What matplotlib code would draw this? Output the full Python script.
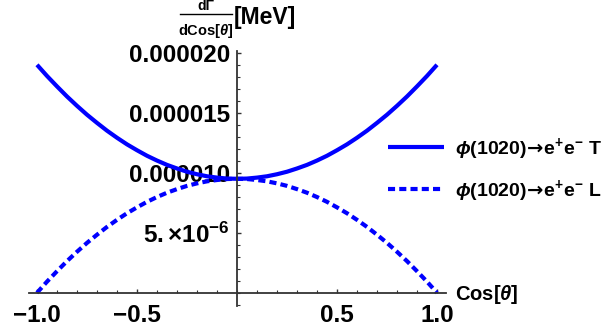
import numpy as np
import matplotlib
matplotlib.use("Agg")
import matplotlib.pyplot as plt
from matplotlib.lines import Line2D
from matplotlib.ticker import MultipleLocator, FixedLocator, FixedFormatter

plt.rcParams['font.family'] = ['Liberation Sans', 'DejaVu Sans']
plt.rcParams['font.weight'] = 'bold'
plt.rcParams['mathtext.fontset'] = 'custom'
plt.rcParams['mathtext.rm'] = 'Liberation Sans:bold'
plt.rcParams['mathtext.bf'] = 'Liberation Sans:bold'
plt.rcParams['mathtext.it'] = 'Liberation Sans:bold:italic'
plt.rcParams['mathtext.sf'] = 'DejaVu Sans:bold'

# Data, values in units of 1e-6 MeV
cos_theta = [-1.00, -0.95, -0.90, -0.85, -0.80, -0.75, -0.70, -0.65, -0.60, -0.55,
             -0.50, -0.45, -0.40, -0.35, -0.30, -0.25, -0.20, -0.15, -0.10, -0.05,
             0.00, 0.05, 0.10, 0.15, 0.20, 0.25, 0.30, 0.35, 0.40, 0.45,
             0.50, 0.55, 0.60, 0.65, 0.70, 0.75, 0.80, 0.85, 0.90, 0.95, 1.00]
rate_T = [19.00, 18.07, 17.20, 16.36, 15.58, 14.84, 14.16, 13.51, 12.92, 12.37,
          11.88, 11.42, 11.02, 10.66, 10.36, 10.09, 9.88, 9.71, 9.60, 9.52,
          9.50, 9.52, 9.60, 9.71, 9.88, 10.09, 10.36, 10.66, 11.02, 11.42,
          11.88, 12.37, 12.92, 13.51, 14.16, 14.84, 15.58, 16.36, 17.20, 18.07, 19.00]
rate_L = [0.00, 0.93, 1.80, 2.64, 3.42, 4.16, 4.84, 5.49, 6.08, 6.63,
          7.12, 7.58, 7.98, 8.34, 8.64, 8.91, 9.12, 9.29, 9.40, 9.48,
          9.50, 9.48, 9.40, 9.29, 9.12, 8.91, 8.64, 8.34, 7.98, 7.58,
          7.12, 6.63, 6.08, 5.49, 4.84, 4.16, 3.42, 2.64, 1.80, 0.93, 0.00]
series_labels = [r'$\phi$(1020)$\!\mathsf{\rightarrow}\!$e$^{+}$e$^{-}$ T',
                 r'$\phi$(1020)$\!\mathsf{\rightarrow}\!$e$^{+}$e$^{-}$ L']
x_ticks = [-1.0, -0.5, 0.5, 1.0]
x_ticklabels = ['\u22121.0', '\u22120.5', '0.5', '1.0']
y_ticks = [5e-6, 1e-5, 1.5e-5, 2e-5]
y_ticklabels = [r'$5.{\times}10^{-6}$', '0.000010', '0.000015', '0.000020']

scale = 1e-6
x = np.array(cos_theta)
yT = np.array(rate_T) * scale
yL = np.array(rate_L) * scale

fig = plt.figure(figsize=(6.10, 3.33), dpi=100)
ax = fig.add_axes([29/610, 1 - 306/333, 417/610, 255/333])
blue = '#0000ff'
lT, = ax.plot(x, yT, color=blue, lw=3.0, solid_capstyle='butt', label=series_labels[0])
lL, = ax.plot(x, yL, color=blue, lw=3.0, linestyle=(0, (1.7, 1.0)), label=series_labels[1])

ax.set_xlim(-1.04, 1.045)
ax.set_ylim(-1.1e-6, 2.015e-5)

axis_col = '#333333'
for s in ['top', 'right']:
    ax.spines[s].set_visible(False)
ax.spines['left'].set_position(('data', 0))
ax.spines['bottom'].set_position(('data', 0))
for s in ['left', 'bottom']:
    ax.spines[s].set_color(axis_col)
    ax.spines[s].set_linewidth(1.3)

ax.xaxis.set_major_locator(FixedLocator(x_ticks))
ax.xaxis.set_major_formatter(FixedFormatter(x_ticklabels))
ax.xaxis.set_minor_locator(MultipleLocator(0.1))
ax.yaxis.set_major_locator(FixedLocator(y_ticks))
ax.yaxis.set_major_formatter(FixedFormatter(y_ticklabels))
ax.yaxis.set_minor_locator(MultipleLocator(1e-6))

ax.tick_params(axis='both', which='major', direction='in', length=3, width=1, color=axis_col,
               labelsize=17.5)
ax.tick_params(axis='both', which='minor', direction='in', length=2, width=0.8, color=axis_col)
ax.tick_params(axis='x', which='major', pad=8)
ax.tick_params(axis='y', which='major', pad=5)
for lab in ax.get_xticklabels() + ax.get_yticklabels():
    lab.set_fontweight('bold')

# axis labels
fig.text(455/610, 1 - 294/333, r'Cos[$\theta$]', fontsize=14.5, fontweight='bold',
         ha='left', va='center')
# y label: fraction dΓ / dCos[θ] followed by [MeV]
fig.add_artist(Line2D([180/610, 232/610], [1 - 14/333, 1 - 14/333], color='black', lw=1.0))
fig.text(206/610, 1 - 10/333, 'd\u0393', fontsize=10, fontweight='bold',
         ha='center', va='baseline')
fig.text(206/610, 1 - 35/333, r'dCos[$\theta$]', fontsize=10.5, fontweight='bold',
         ha='center', va='baseline')
fig.text(234/610, 1 - 24/333, '[MeV]', fontsize=16.5, fontweight='bold', ha='left',
         va='baseline')

leg = fig.legend(handles=[lT, lL], loc='center left', bbox_to_anchor=(370/610, 1 - 170/333),
                 frameon=False, fontsize=14, handlelength=2.9, handletextpad=0.55,
                 labelspacing=0.85)

fig.savefig('out.png', dpi=100)
